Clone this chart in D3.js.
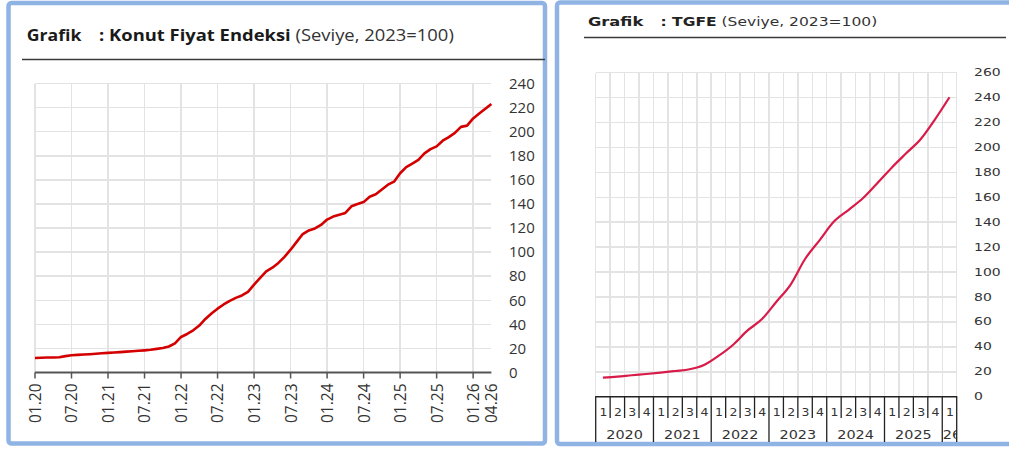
<!DOCTYPE html>
<meta charset="utf-8">
<style>
body { margin: 0; background: #fff; }
svg { display: block; }
.grid line { stroke: #e3e3e3; stroke-width: 1.5px; shape-rendering: crispEdges; }
</style>
<svg id="chart" width="1009" height="452"></svg>
<script src="https://cdn.jsdelivr.net/npm/d3@7/dist/d3.min.js"></script>
<script>
  // Konut Fiyat Endeksi, monthly 01.20 .. 04.26
  var konutValues = [
    12.0, 12.2, 12.4, 12.5, 12.7, 13.6, 14.3, 14.6, 14.9, 15.2, 15.6, 16.0,
    16.3, 16.6, 16.9, 17.3, 17.6, 18.0, 18.4, 18.9, 19.6, 20.4, 21.6, 24.2,
    29.5, 32.0, 35.0, 39.0, 44.5, 49.0, 53.0, 56.5, 59.5, 62.0, 64.0, 67.0,
    73.0, 78.5, 84.0, 87.0, 91.0, 96.0, 102.0, 108.5, 115.0, 118.0, 119.6, 122.5,
    127.0, 129.5, 131.0, 132.5, 138.0, 140.0, 141.5, 146.0, 148.0, 152.0, 156.0, 158.5,
    165.5, 170.5, 173.5, 176.5, 182.0, 185.5, 187.8, 192.5, 195.5, 199.0, 204.0, 205.0,
    211.0, 215.0, 219.0, 223.0
  ];
  var konutTickLabels = ["01.20", "07.20", "01.21", "07.21", "01.22", "07.22", "01.23",
                         "07.23", "01.24", "07.24", "01.25", "07.25", "01.26", "04.26"];
  var konutTickMonths = [0, 6, 12, 18, 24, 30, 36, 42, 48, 54, 60, 66, 72, 75];
  var konutYTicks = [0, 20, 40, 60, 80, 100, 120, 140, 160, 180, 200, 220, 240];

  // TGFE, quarterly 2020Q1 .. 2026Q1
  var tgfeQuarters = [
    "2020-1", "2020-2", "2020-3", "2020-4", "2021-1", "2021-2", "2021-3", "2021-4",
    "2022-1", "2022-2", "2022-3", "2022-4", "2023-1", "2023-2", "2023-3", "2023-4",
    "2024-1", "2024-2", "2024-3", "2024-4", "2025-1", "2025-2", "2025-3", "2025-4",
    "2026-1"
  ];
  var tgfeValues = [
    15.3, 16.1, 17.2, 18.2, 19.3, 20.6, 22.0, 25.4,
    32.7, 41.5, 53.0, 62.1, 76.0, 90.0, 110.5, 125.5,
    140.5, 149.8, 159.2, 171.3, 183.8, 195.3, 206.6, 222.6,
    240.3
  ];
  var tgfeYearLabels = ["2020", "2021", "2022", "2023", "2024", "2025", "26"];
  var tgfeYTicks = [0, 20, 40, 60, 80, 100, 120, 140, 160, 180, 200, 220, 240, 260];

  var svg = d3.select("#chart");
  var panelBlue = "#8fb4e3";

  // squeeze or stretch a text horizontally so it spans a given width
  function fitWidth(text, x, y, target) {
    var w = text.node().getComputedTextLength();
    text.attr("transform", "translate(" + x + "," + y + ") scale(" + (target / w) + ",1)");
  }

  // ---------- left panel ----------
  svg.append("rect")
    .attr("x", 8.5).attr("y", 3).attr("width", 536.5).attr("height", 440.5)
    .attr("rx", 3)
    .attr("fill", "none").attr("stroke", panelBlue).attr("stroke-width", 4.5);

  var left = svg.append("g").style("font-family", "'Open Sans', sans-serif");

  var t1 = left.append("text").attr("font-size", 16.5).attr("font-weight", "bold")
    .attr("fill", "#1a1a1a").text("Grafik");
  fitWidth(t1, 26.8, 41, 54.6);
  var t2 = left.append("text").attr("font-size", 16.5).attr("fill", "#1a1a1a");
  t2.append("tspan").attr("font-weight", "bold").text(": Konut Fiyat Endeksi");
  t2.append("tspan").attr("fill", "#333").text(" (Seviye, 2023=100)");
  fitWidth(t2, 99, 41, 355);

  left.append("line")
    .attr("x1", 22).attr("x2", 545).attr("y1", 59.5).attr("y2", 59.5)
    .attr("stroke", "#3a3a3a").attr("stroke-width", 1.5);

  var xL = d3.scaleLinear().domain([0, 75]).range([35, 491.4]);
  var yL = d3.scaleLinear().domain([0, 240]).range([372.5, 83.5]);

  var gridL = left.append("g").attr("class", "grid");
  gridL.selectAll(".h").data(konutYTicks).enter().append("line")
    .attr("x1", xL(0)).attr("x2", xL(75))
    .attr("y1", function(d) { return yL(d); })
    .attr("y2", function(d) { return yL(d); });
  gridL.selectAll(".v").data(konutTickMonths.slice(0, -1)).enter().append("line")
    .attr("x1", function(d) { return xL(d); })
    .attr("x2", function(d) { return xL(d); })
    .attr("y1", yL(240)).attr("y2", yL(0));

  var yAxisL = d3.axisRight(yL).tickValues(konutYTicks).tickSize(0).tickPadding(0);
  left.append("g")
    .attr("transform", "translate(509,0)")
    .call(yAxisL)
    .call(function(g) {
      g.select(".domain").remove();
      g.selectAll("text").attr("font-size", 15).attr("fill", "#333")
        .style("font-family", "'Open Sans', sans-serif");
    });

  left.append("line")
    .attr("x1", xL(0)).attr("x2", xL(75)).attr("y1", yL(0)).attr("y2", yL(0))
    .attr("stroke", "#555").attr("stroke-width", 2);
  left.selectAll(".xtick").data(konutTickMonths.slice(0, -1)).enter().append("line")
    .attr("x1", function(d) { return xL(d); })
    .attr("x2", function(d) { return xL(d); })
    .attr("y1", yL(0)).attr("y2", yL(0) + 6)
    .attr("stroke", "#555").attr("stroke-width", 1.5);
  left.selectAll(".xlab").data(konutTickMonths).enter().append("text")
    .attr("transform", function(d) {
      return "translate(" + (xL(d) + 0.5) + "," + (yL(0) + 11) + ") rotate(-90)";
    })
    .attr("text-anchor", "end").attr("dy", "0.35em")
    .attr("font-size", 15.5).attr("fill", "#333")
    .text(function(d, i) { return konutTickLabels[i]; });

  var lineL = d3.line()
    .x(function(d, i) { return xL(i); })
    .y(function(d) { return yL(d); });
  left.append("path").datum(konutValues)
    .attr("d", lineL)
    .attr("fill", "none").attr("stroke", "#d40000").attr("stroke-width", 2.6)
    .attr("stroke-linejoin", "round");

  // ---------- right panel ----------
  svg.append("rect")
    .attr("x", 557).attr("y", 2.5).attr("width", 470).attr("height", 441.5)
    .attr("rx", 3)
    .attr("fill", "none").attr("stroke", panelBlue).attr("stroke-width", 4.5);

  var right = svg.append("g").style("font-family", "'DejaVu Sans', sans-serif");

  var r1 = right.append("text").attr("font-size", 12.5).attr("font-weight", "bold")
    .attr("fill", "#222").text("Grafik");
  fitWidth(r1, 588, 26, 55.3);
  var r2 = right.append("text").attr("font-size", 12.5).attr("fill", "#222");
  r2.append("tspan").attr("font-weight", "bold").text(": TGFE");
  r2.append("tspan").attr("fill", "#333").text(" (Seviye, 2023=100)");
  fitWidth(r2, 660.5, 26, 217);

  right.append("line")
    .attr("x1", 584).attr("x2", 1006).attr("y1", 37.5).attr("y2", 37.5)
    .attr("stroke", "#3a3a3a").attr("stroke-width", 1.5);

  var xR = d3.scaleBand().domain(tgfeQuarters).range([595.7, 956.7]);
  var yR = d3.scaleLinear().domain([0, 260]).range([396.7, 72.7]);
  var bounds = tgfeQuarters.map(function(q) { return xR(q); }).concat([xR.range()[1]]);

  var gridR = right.append("g").attr("class", "grid");
  gridR.selectAll(".h").data(tgfeYTicks).enter().append("line")
    .attr("x1", xR.range()[0]).attr("x2", xR.range()[1])
    .attr("y1", function(d) { return yR(d); })
    .attr("y2", function(d) { return yR(d); });
  gridR.selectAll(".v").data(bounds).enter().append("line")
    .attr("x1", function(d) { return d; }).attr("x2", function(d) { return d; })
    .attr("y1", yR(260)).attr("y2", yR(0));

  right.selectAll(".ylab").data(tgfeYTicks).enter().append("text")
    .attr("transform", function(d) {
      return "translate(974," + yR(d) + ") scale(1.4,1)";
    })
    .attr("dy", "0.35em").attr("font-size", 10).attr("fill", "#333")
    .text(function(d) { return d; });

  right.append("line")
    .attr("x1", xR.range()[0] - 0.5).attr("x2", xR.range()[1] + 0.5)
    .attr("y1", yR(0)).attr("y2", yR(0))
    .attr("stroke", "#222").attr("stroke-width", 1.5);
  right.selectAll(".qtick").data(bounds).enter().append("line")
    .attr("x1", function(d) { return d; }).attr("x2", function(d) { return d; })
    .attr("y1", yR(0))
    .attr("y2", function(d, i) { return (i % 4 === 0 || i === bounds.length - 1) ? 442 : 418; })
    .attr("stroke", "#222").attr("stroke-width", 1.3);

  right.selectAll(".qlab").data(tgfeQuarters).enter().append("text")
    .attr("transform", function(d) {
      return "translate(" + (xR(d) + xR.bandwidth() / 2 + 0.5) + ",412) scale(1.25,1)";
    })
    .attr("text-anchor", "middle").attr("dy", "0.35em")
    .attr("font-size", 10).attr("fill", "#333")
    .text(function(d) { return d.split("-")[1]; });

  // the last year band is too narrow for its label, so it is cut off
  right.append("clipPath").attr("id", "lastyear").append("rect")
    .attr("x", bounds[24] + 0.5).attr("y", 420)
    .attr("width", bounds[25] - bounds[24] - 0.5).attr("height", 25);
  var yearG = right.selectAll(".year").data(tgfeYearLabels).enter().append("g")
    .attr("clip-path", function(d, i) {
      return i === tgfeYearLabels.length - 1 ? "url(#lastyear)" : null;
    });
  yearG.append("text")
    .attr("transform", function(d, i) {
      var a = bounds[i * 4], b = bounds[Math.min(i * 4 + 4, bounds.length - 1)];
      var cx = (i === tgfeYearLabels.length - 1) ? a + 0.5 : (a + b) / 2;
      return "translate(" + cx + ",435) scale(1.2,1)";
    })
    .attr("text-anchor", function(d, i) { return i === tgfeYearLabels.length - 1 ? "start" : "middle"; })
    .attr("dy", "0.35em").attr("font-size", 12).attr("fill", "#333")
    .text(function(d) { return d; });

  var lineR = d3.line()
    .x(function(d, i) { return xR(tgfeQuarters[i]) + xR.bandwidth() / 2; })
    .y(function(d) { return yR(d); })
    .curve(d3.curveMonotoneX);
  right.append("path").datum(tgfeValues)
    .attr("d", lineR)
    .attr("fill", "none").attr("stroke", "#d81b48").attr("stroke-width", 2.2);
</script>
